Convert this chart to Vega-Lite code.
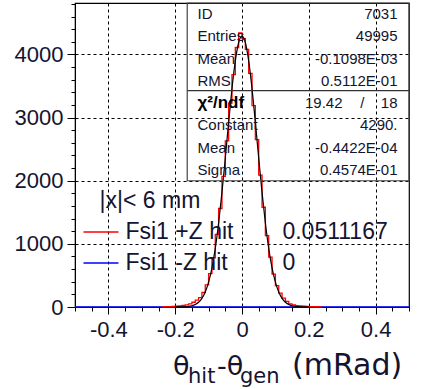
{
  "$schema": "https://vega.github.io/schema/vega-lite/v6.json",
  "width": 334,
  "height": 304,
  "autosize": {"type": "none"},
  "padding": {"left": 75, "top": 3, "right": 15, "bottom": 82},
  "background": "white",
  "config": {
    "view": {"stroke": "#000", "strokeWidth": 1.2},
    "font": "Liberation Sans",
    "text": {"font": "Liberation Sans", "color": "#141430"},
    "axis": {
      "tickColor": "#000",
      "domainColor": "#000",
      "labelFont": "Liberation Sans",
      "labelFontSize": 22,
      "labelColor": "#141430",
      "labelOverlap": false,
      "labelFlush": false,
      "title": null
    }
  },
  "datasets": {
    "plusZ": [
      {"lo": -0.24, "hi": -0.23, "n": 2},
      {"lo": -0.23, "hi": -0.22, "n": 5},
      {"lo": -0.22, "hi": -0.21, "n": 6},
      {"lo": -0.21, "hi": -0.20, "n": 9},
      {"lo": -0.20, "hi": -0.19, "n": 12},
      {"lo": -0.19, "hi": -0.18, "n": 16},
      {"lo": -0.18, "hi": -0.17, "n": 25},
      {"lo": -0.17, "hi": -0.16, "n": 35},
      {"lo": -0.16, "hi": -0.15, "n": 50},
      {"lo": -0.15, "hi": -0.14, "n": 75},
      {"lo": -0.14, "hi": -0.13, "n": 110},
      {"lo": -0.13, "hi": -0.12, "n": 150},
      {"lo": -0.12, "hi": -0.11, "n": 230},
      {"lo": -0.11, "hi": -0.10, "n": 350},
      {"lo": -0.10, "hi": -0.09, "n": 530},
      {"lo": -0.09, "hi": -0.08, "n": 780},
      {"lo": -0.08, "hi": -0.07, "n": 1150},
      {"lo": -0.07, "hi": -0.06, "n": 1560},
      {"lo": -0.06, "hi": -0.05, "n": 2070},
      {"lo": -0.05, "hi": -0.04, "n": 2630},
      {"lo": -0.04, "hi": -0.03, "n": 3230},
      {"lo": -0.03, "hi": -0.02, "n": 3680},
      {"lo": -0.02, "hi": -0.01, "n": 4110},
      {"lo": -0.01, "hi": 0.00, "n": 4340},
      {"lo": 0.00, "hi": 0.01, "n": 4250},
      {"lo": 0.01, "hi": 0.02, "n": 4080},
      {"lo": 0.02, "hi": 0.03, "n": 3700},
      {"lo": 0.03, "hi": 0.04, "n": 3190},
      {"lo": 0.04, "hi": 0.05, "n": 2650},
      {"lo": 0.05, "hi": 0.06, "n": 2090},
      {"lo": 0.06, "hi": 0.07, "n": 1580},
      {"lo": 0.07, "hi": 0.08, "n": 1130},
      {"lo": 0.08, "hi": 0.09, "n": 790},
      {"lo": 0.09, "hi": 0.10, "n": 520},
      {"lo": 0.10, "hi": 0.11, "n": 340},
      {"lo": 0.11, "hi": 0.12, "n": 220},
      {"lo": 0.12, "hi": 0.13, "n": 140},
      {"lo": 0.13, "hi": 0.14, "n": 90},
      {"lo": 0.14, "hi": 0.15, "n": 50},
      {"lo": 0.15, "hi": 0.16, "n": 35},
      {"lo": 0.16, "hi": 0.17, "n": 22},
      {"lo": 0.17, "hi": 0.18, "n": 16},
      {"lo": 0.18, "hi": 0.19, "n": 12},
      {"lo": 0.19, "hi": 0.20, "n": 9},
      {"lo": 0.20, "hi": 0.21, "n": 7},
      {"lo": 0.21, "hi": 0.22, "n": 5},
      {"lo": 0.22, "hi": 0.23, "n": 4},
      {"lo": 0.23, "hi": 0.24, "n": 3}
    ],
    "minusZ": [
      {"lo": -0.5, "hi": 0.5, "n": 0}
    ],
    "fit": [
      {"x": -0.20, "f": 0.3},
      {"x": -0.19, "f": 0.8},
      {"x": -0.18, "f": 1.9},
      {"x": -0.17, "f": 4.3},
      {"x": -0.16, "f": 9.4},
      {"x": -0.15, "f": 19.8},
      {"x": -0.14, "f": 39.6},
      {"x": -0.13, "f": 75.6},
      {"x": -0.12, "f": 137},
      {"x": -0.11, "f": 238},
      {"x": -0.10, "f": 393},
      {"x": -0.09, "f": 619},
      {"x": -0.08, "f": 929},
      {"x": -0.07, "f": 1330},
      {"x": -0.06, "f": 1815},
      {"x": -0.05, "f": 2360},
      {"x": -0.04, "f": 2927},
      {"x": -0.03, "f": 3460},
      {"x": -0.02, "f": 3899},
      {"x": -0.01, "f": 4189},
      {"x": 0.00, "f": 4290},
      {"x": 0.01, "f": 4189},
      {"x": 0.02, "f": 3899},
      {"x": 0.03, "f": 3460},
      {"x": 0.04, "f": 2927},
      {"x": 0.05, "f": 2360},
      {"x": 0.06, "f": 1815},
      {"x": 0.07, "f": 1330},
      {"x": 0.08, "f": 929},
      {"x": 0.09, "f": 619},
      {"x": 0.10, "f": 393},
      {"x": 0.11, "f": 238},
      {"x": 0.12, "f": 137},
      {"x": 0.13, "f": 75.6},
      {"x": 0.14, "f": 39.6},
      {"x": 0.15, "f": 19.8},
      {"x": 0.16, "f": 9.4},
      {"x": 0.17, "f": 4.3},
      {"x": 0.18, "f": 1.9},
      {"x": 0.19, "f": 0.8},
      {"x": 0.20, "f": 0.3}
    ],
    "stats": [
      {"k": "id", "name": "ID", "value": "7031"},
      {"k": "entries", "name": "Entries", "value": "49995"},
      {"k": "mean", "name": "Mean", "value": "-0.1098E-03"},
      {"k": "rms", "name": "RMS", "value": "0.5112E-01"},
      {"k": "chi", "name": "χ²/ndf", "value": "18", "num": "19.42"},
      {"k": "const", "name": "Constant", "value": "4290."},
      {"k": "fmean", "name": "Mean", "value": "-0.4422E-04"},
      {"k": "sigma", "name": "Sigma", "value": "0.4574E-01"}
    ],
    "legend": [
      {"k": "cut", "label": "|x|< 6 mm", "val": ""},
      {"k": "plus", "label": "Fsi1 +Z hit", "val": "0.0511167"},
      {"k": "minus", "label": "Fsi1 -Z hit", "val": "0"}
    ]
  },
  "resolve": {
    "scale": {"y": "independent"},
    "axis": {"x": "independent", "y": "independent"}
  },
  "layer": [
    {
      "resolve": {"axis": {"x": "independent", "y": "independent"}},
      "layer": [
        {
          "data": {"name": "minusZ"},
          "transform": [{"fold": ["lo", "hi"], "as": ["edge", "x"]}],
          "mark": {"type": "line", "color": "#0000ff", "strokeWidth": 1.3},
          "encoding": {
            "x": {
              "field": "x",
              "type": "quantitative",
              "scale": {"domain": [-0.5, 0.5], "nice": false, "zero": false},
              "axis": {
                "orient": "bottom",
                "values": [-0.4, -0.2, 0, 0.2, 0.4],
                "labelExpr": "toString(datum.value)",
                "grid": true,
                "gridColor": "#000",
                "gridDash": [3, 3],
                "gridWidth": 1,
                "tickSize": 7,
                "labelPadding": 5
              }
            },
            "y": {
              "field": "n",
              "type": "quantitative",
              "scale": {"domain": [0, 4815], "nice": false},
              "axis": {
                "orient": "left",
                "values": [0, 1000, 2000, 3000, 4000],
                "format": "d",
                "grid": true,
                "gridColor": "#000",
                "gridDash": [3, 3],
                "gridWidth": 1,
                "tickSize": 8,
                "labelPadding": 4
              }
            },
            "order": [{"field": "x", "type": "quantitative"}, {"field": "edge", "type": "ordinal"}]
          }
        },
        {
          "data": {"name": "plusZ"},
          "transform": [{"fold": ["lo", "hi"], "as": ["edge", "x"]}],
          "mark": {"type": "line", "color": "#ff0000", "strokeWidth": 1.3},
          "encoding": {
            "x": {
              "field": "x",
              "type": "quantitative",
              "axis": {
                "orient": "bottom",
                "values": [-0.5, -0.45, -0.35, -0.3, -0.25, -0.15, -0.1, -0.05, 0.05, 0.1, 0.15, 0.25, 0.3, 0.35, 0.45, 0.5],
                "labels": false,
                "grid": false,
                "domain": false,
                "tickSize": 4
              }
            },
            "y": {
              "field": "n",
              "type": "quantitative",
              "axis": {
                "orient": "left",
                "values": [200, 400, 600, 800, 1200, 1400, 1600, 1800, 2200, 2400, 2600, 2800, 3200, 3400, 3600, 3800, 4200, 4400, 4600, 4800],
                "labels": false,
                "grid": false,
                "domain": false,
                "tickSize": 4
              }
            },
            "order": [{"field": "x", "type": "quantitative"}, {"field": "edge", "type": "ordinal"}]
          }
        },
        {
          "data": {"name": "fit"},
          "mark": {"type": "line", "color": "#000", "strokeWidth": 1.2, "interpolate": "monotone"},
          "encoding": {
            "x": {"field": "x", "type": "quantitative", "axis": null},
            "y": {"field": "f", "type": "quantitative", "axis": null}
          }
        },
        {
          "data": {"values": [{}]},
          "mark": {"type": "rect", "fill": "transparent", "stroke": "#444", "strokeWidth": 1.2},
          "encoding": {
            "x": {"datum": -0.164, "type": "quantitative", "axis": null},
            "x2": {"datum": 0.5},
            "y": {"datum": 2000, "type": "quantitative", "axis": null},
            "y2": {"datum": 4815}
          }
        },
        {
          "data": {"values": [{}]},
          "mark": {"type": "rule", "color": "#333", "strokeWidth": 1.2},
          "encoding": {
            "x": {"datum": -0.164, "type": "quantitative", "axis": null},
            "x2": {"datum": 0.5},
            "y": {"datum": 3426, "type": "quantitative", "axis": null}
          }
        },
        {
          "data": {"values": [{}]},
          "mark": {"type": "text", "text": "θ", "font": "DejaVu Sans", "fontSize": 27, "align": "left", "baseline": "alphabetic"},
          "encoding": {
            "x": {"datum": -0.2066, "type": "quantitative", "axis": null},
            "y": {"datum": -1077, "type": "quantitative", "axis": null}
          }
        },
        {
          "data": {"values": [{}]},
          "mark": {"type": "text", "text": "hit", "font": "DejaVu Sans", "fontSize": 21, "align": "left", "baseline": "alphabetic"},
          "encoding": {
            "x": {"datum": -0.1617, "type": "quantitative", "axis": null},
            "y": {"datum": -1204, "type": "quantitative", "axis": null}
          }
        },
        {
          "data": {"values": [{}]},
          "mark": {"type": "text", "text": "-θ", "font": "DejaVu Sans", "fontSize": 27, "align": "left", "baseline": "alphabetic"},
          "encoding": {
            "x": {"datum": -0.0749, "type": "quantitative", "axis": null},
            "y": {"datum": -1077, "type": "quantitative", "axis": null}
          }
        },
        {
          "data": {"values": [{}]},
          "mark": {"type": "text", "text": "gen", "font": "DejaVu Sans", "fontSize": 21, "align": "left", "baseline": "alphabetic"},
          "encoding": {
            "x": {"datum": -0.006, "type": "quantitative", "axis": null},
            "y": {"datum": -1204, "type": "quantitative", "axis": null}
          }
        },
        {
          "data": {"values": [{}]},
          "mark": {"type": "text", "text": "(mRad)", "font": "DejaVu Sans", "fontSize": 30, "align": "left", "baseline": "alphabetic"},
          "encoding": {
            "x": {"datum": 0.1497, "type": "quantitative", "axis": null},
            "y": {"datum": -1077, "type": "quantitative", "axis": null}
          }
        }
      ]
    },
    {
      "data": {"name": "stats"},
      "encoding": {
        "y": {
          "field": "k",
          "type": "ordinal",
          "scale": {"type": "point", "domain": ["id", "entries", "mean", "rms", "chi", "const", "fmean", "sigma"], "range": [11, 167], "padding": 0},
          "axis": null
        }
      },
      "layer": [
        {
          "transform": [{"filter": "datum.k != 'chi'"}],
          "mark": {"type": "text", "fontSize": 15, "align": "left", "baseline": "middle"},
          "encoding": {
            "x": {"datum": -0.1332, "type": "quantitative", "axis": null},
            "text": {"field": "name"}
          }
        },
        {
          "transform": [{"filter": "datum.k == 'chi'"}],
          "mark": {"type": "text", "fontSize": 17, "fontWeight": "bold", "align": "left", "baseline": "middle", "color": "#000"},
          "encoding": {
            "x": {"datum": -0.1332, "type": "quantitative", "axis": null},
            "text": {"field": "name"}
          }
        },
        {
          "mark": {"type": "text", "fontSize": 15, "align": "right", "baseline": "middle"},
          "encoding": {
            "x": {"datum": 0.4656, "type": "quantitative", "axis": null},
            "text": {"field": "value"}
          }
        },
        {
          "transform": [{"filter": "datum.k == 'chi'"}],
          "mark": {"type": "text", "fontSize": 15, "align": "right", "baseline": "middle"},
          "encoding": {
            "x": {"datum": 0.301, "type": "quantitative", "axis": null},
            "text": {"field": "num"}
          }
        },
        {
          "transform": [{"filter": "datum.k == 'chi'"}],
          "mark": {"type": "text", "text": "/", "fontSize": 15, "align": "center", "baseline": "middle"},
          "encoding": {
            "x": {"datum": 0.36, "type": "quantitative", "axis": null}
          }
        }
      ]
    },
    {
      "data": {"name": "legend"},
      "encoding": {
        "y": {
          "field": "k",
          "type": "ordinal",
          "scale": {"type": "point", "domain": ["cut", "plus", "minus"], "range": [198, 260], "padding": 0},
          "axis": null
        }
      },
      "layer": [
        {
          "transform": [{"filter": "datum.k != 'cut'"}],
          "mark": {"type": "rule", "strokeWidth": 1.3},
          "encoding": {
            "x": {"datum": -0.4746, "type": "quantitative", "axis": null},
            "x2": {"datum": -0.3698},
            "color": {"field": "k", "type": "nominal", "scale": {"domain": ["plus", "minus"], "range": ["#ff0000", "#0000ff"]}, "legend": null}
          }
        },
        {
          "transform": [{"filter": "datum.k == 'cut'"}],
          "mark": {"type": "text", "fontSize": 23, "align": "left", "baseline": "middle"},
          "encoding": {
            "x": {"datum": -0.4266, "type": "quantitative", "axis": null},
            "text": {"field": "label"}
          }
        },
        {
          "transform": [{"filter": "datum.k != 'cut'"}],
          "mark": {"type": "text", "fontSize": 23, "align": "left", "baseline": "middle"},
          "encoding": {
            "x": {"datum": -0.349, "type": "quantitative", "axis": null},
            "text": {"field": "label"}
          }
        },
        {
          "transform": [{"filter": "datum.k != 'cut'"}],
          "mark": {"type": "text", "fontSize": 23, "align": "left", "baseline": "middle"},
          "encoding": {
            "x": {"datum": 0.121, "type": "quantitative", "axis": null},
            "text": {"field": "val"}
          }
        }
      ]
    }
  ]
}
